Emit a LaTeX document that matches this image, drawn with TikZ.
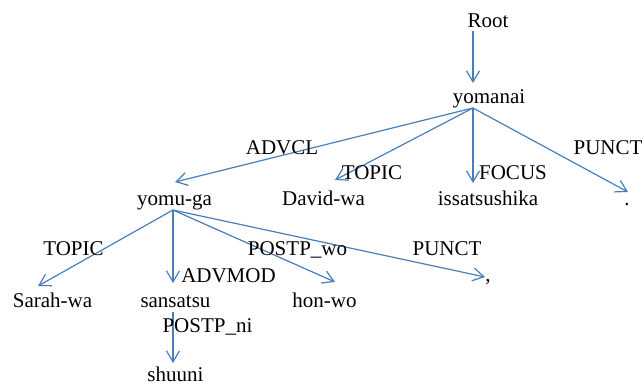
\documentclass[tikz,border=0pt]{standalone}
\usepackage{fontspec}
\setmainfont{Liberation Serif}
\usetikzlibrary{arrows.meta}
\definecolor{deplink}{RGB}{74,126,187}
\tikzset{
  word/.style={anchor=base, inner sep=0pt, font=\fontsize{21}{24}\selectfont},
  rel/.style={anchor=base, inner sep=0pt, font=\fontsize{21}{24}\selectfont},
  dep/.style={draw=deplink, line width=1.2pt,
    -{Straight Barb[length=11pt,width=13pt,line width=1.2pt]}}
}
\begin{document}
\begin{tikzpicture}[x=1pt,y=-1pt]
\useasboundingbox (0,0) rectangle (644,383);

% words of the sentence
\node[word] (root) at (488,27) {Root};
\node[word] (yomanai) at (489,103) {yomanai};
\node[word] (yomuga) at (174.5,205) {yomu-ga};
\node[word] (davidwa) at (323.5,205) {David-wa};
\node[word] (issatsushika) at (488,205) {issatsushika};
\node[word] (period) at (627,205) {.};
\node[word] (sarahwa) at (52.5,307) {Sarah-wa};
\node[word] (sansatsu) at (175.5,307) {sansatsu};
\node[word] (honwo) at (324.5,307) {hon-wo};
\node[word] (comma) at (488,281) {,};
\node[word, text depth=0pt] (shuuni) at (175.5,381) {shuuni};

% attachment points of the arcs
\coordinate (root-o) at (473,31);
\coordinate (yomanai-i) at (473,83);
\coordinate (yomanai-o) at (473,108);
\coordinate (yomuga-i) at (175,182);
\coordinate (davidwa-i) at (335,180);
\coordinate (issatsushika-i) at (473,183);
\coordinate (period-i) at (628,192);
\coordinate (yomuga-o) at (173,210);
\coordinate (sarahwa-i) at (38,286);
\coordinate (sansatsu-i) at (173,283);
\coordinate (honwo-i) at (335,282);
\coordinate (comma-i) at (485,277);
\coordinate (sansatsu-o) at (173,312);
\coordinate (shuuni-i) at (173,363);

% dependency arcs
\draw[dep] (root-o) -- (yomanai-i);
\draw[dep] (yomanai-o) -- (yomuga-i);
\draw[dep] (yomanai-o) -- (davidwa-i);
\draw[dep] (yomanai-o) -- (issatsushika-i);
\draw[dep] (yomanai-o) -- (period-i);
\draw[dep] (yomuga-o) -- (sarahwa-i);
\draw[dep] (yomuga-o) -- (sansatsu-i);
\draw[dep] (yomuga-o) -- (honwo-i);
\draw[dep] (yomuga-o) -- (comma-i);
\draw[dep] (sansatsu-o) -- (shuuni-i);

% relation labels
\node[rel] (l-advcl) at (282,154) {ADVCL};
\node[rel] (l-topic1) at (372,179) {TOPIC};
\node[rel] (l-focus) at (513,179) {FOCUS};
\node[rel] (l-punct1) at (608,154) {PUNCT};
\node[rel] (l-topic2) at (73.5,255) {TOPIC};
\node[rel] (l-advmod) at (228.5,282) {ADVMOD};
\node[rel] (l-postpwo) at (297.5,255) {POSTP\_wo};
\node[rel] (l-punct2) at (447,255) {PUNCT};
\node[rel] (l-postpni) at (207.5,332) {POSTP\_ni};
\end{tikzpicture}
\end{document}
